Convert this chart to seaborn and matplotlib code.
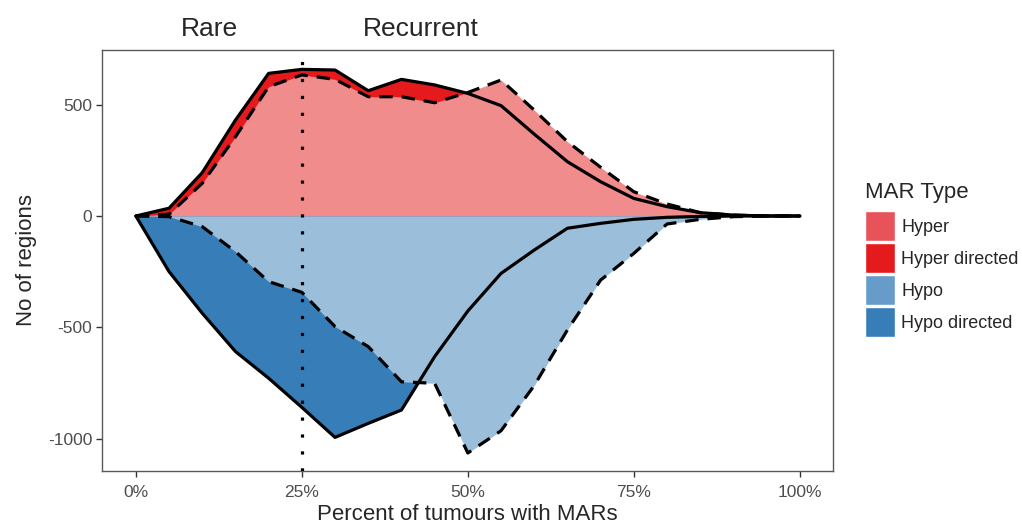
import numpy as np
import pandas as pd
import matplotlib
matplotlib.use("Agg")
import matplotlib.pyplot as plt
from matplotlib.patches import Patch
from matplotlib.ticker import FuncFormatter
import seaborn as sns

# Percent of tumours (x) and number of regions for each MAR type
pct = [0, 5, 10, 15, 20, 25, 30, 35, 40, 45, 50, 55, 60, 65, 70, 75, 80, 85, 90, 95, 100]
hyper = [0, 8, 147, 356, 581, 634, 614, 536, 536, 509, 555, 611, 476, 334, 219, 109, 54, 15, 4, 0, 0]
hyper_directed = [0, 35, 195, 431, 641, 659, 656, 563, 614, 589, 551, 496, 368, 244, 154, 79, 42, 15, 4, 0, 0]
hypo = [0, -3, -48, -160, -295, -343, -497, -587, -745, -752, -1065, -965, -762, -512, -288, -168, -36, -15, -3, 0, 0]
hypo_directed = [0, -250, -437, -609, -729, -860, -995, -932, -872, -632, -427, -258, -153, -55, -33, -15, -6, -2, 0, 0, 0]

mar_types = ["Hyper", "Hyper directed", "Hypo", "Hypo directed"]
fill_colors = {"Hyper": "#F18C8D", "Hyper directed": "#E41A1C",
               "Hypo": "#9BBEDB", "Hypo directed": "#377EB8"}
key_colors = {"Hyper": "#E8535A", "Hyper directed": "#E41A1C",
              "Hypo": "#679BC9", "Hypo directed": "#377EB8"}

df = pd.DataFrame({"pct": pct, "Hyper": hyper, "Hyper directed": hyper_directed,
                   "Hypo": hypo, "Hypo directed": hypo_directed})
long = df.melt(id_vars="pct", var_name="type", value_name="n")

sns.set_theme(style="white")
plt.rcParams["font.family"] = ["Liberation Sans", "DejaVu Sans"]

fig = plt.figure(figsize=(10.22, 5.27), dpi=100)
ax = fig.add_axes([102 / 1022, 1 - 471 / 527, (833 - 102) / 1022, (471 - 50) / 527])

# areas: directed first, then the all-MAR area on top
for t in ["Hyper directed", "Hyper", "Hypo directed", "Hypo"]:
    ax.fill_between(df["pct"], 0, df[t], color=fill_colors[t], lw=0, zorder=1)

# outlines: solid for directed, dashed for all
for t, directed in [("Hyper directed", True), ("Hypo directed", True), ("Hyper", False), ("Hypo", False)]:
    sub = long[long["type"] == t]
    sns.lineplot(data=sub, x="pct", y="n", ax=ax, color="black", lw=2.3,
                 dashes=False, legend=False, zorder=3,
                 **({} if directed else {"linestyle": (0, (4.2, 2.8))}))

ax.axvline(25, color="black", lw=2.3, linestyle=(0, (1, 4.3)), zorder=4)

ax.set_xlim(-5.1, 105)
ax.set_ylim(-1146, 746)
ax.set_xticks([0, 25, 50, 75, 100])
ax.xaxis.set_major_formatter(FuncFormatter(lambda v, p: f"{int(v)}%"))
ax.set_yticks([500, 0, -500, -1000])
ax.yaxis.set_major_formatter(FuncFormatter(lambda v, p: f"{int(v)}"))
ax.tick_params(axis="both", which="major", length=4, width=1, color="#333333",
               labelsize=12.5, labelcolor="#4D4D4D", bottom=True, left=True)
ax.tick_params(axis="x", pad=6)
ax.tick_params(axis="y", pad=3)
for s in ax.spines.values():
    s.set_color("#5A5A5A")
    s.set_linewidth(1)

ax.set_xlabel("Percent of tumours with MARs", fontsize=16, labelpad=3)
ax.set_ylabel("No of regions", fontsize=16, labelpad=8)

trans = matplotlib.transforms.blended_transform_factory(ax.transData, ax.transAxes)
ax.text(11.1, 1.05, "Rare", transform=trans, ha="center", va="center", fontsize=19, clip_on=False)
ax.text(42.9, 1.05, "Recurrent", transform=trans, ha="center", va="center", fontsize=19, clip_on=False)

handles = [Patch(facecolor=key_colors[t], edgecolor="white", lw=1) for t in mar_types]
leg = fig.legend(handles, mar_types, title="MAR Type", loc="upper left",
                 bbox_to_anchor=(865 / 1022, 1 - 182 / 527), frameon=False,
                 fontsize=13, title_fontsize=16, handlelength=1.67, handleheight=2.18,
                 handletextpad=0.35, labelspacing=0.11, borderaxespad=0, borderpad=0)
leg._legend_box.align = "left"
leg._legend_box.sep = 6

fig.savefig("out.png", dpi=100)
